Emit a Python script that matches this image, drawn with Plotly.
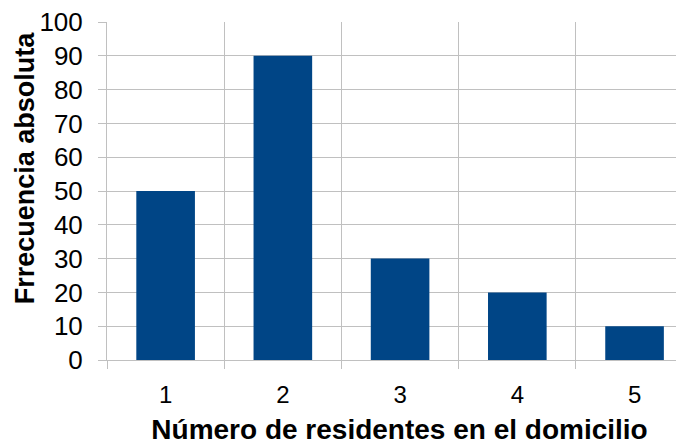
import plotly.graph_objects as go

categories = [1, 2, 3, 4, 5]
values = [50, 90, 30, 20, 10]
x_title = "Número de residentes en el domicilio"
y_title = "Frrecuencia absoluta"

fig = go.Figure()
fig.add_trace(go.Bar(x=categories, y=values, width=0.5,
                     marker=dict(color="#004586", line=dict(width=0))))

grid = "#c0c0c0"
fig.update_layout(
    width=684, height=444,
    margin=dict(l=99, r=0, t=14, b=92),
    plot_bgcolor="white", paper_bgcolor="white",
    font=dict(family="Liberation Sans, Arial, sans-serif", color="black"),
    showlegend=False,
    xaxis=dict(
        range=[0.5, 5.49], tickvals=categories, ticktext=[str(c) for c in categories],
        showgrid=False, ticks="", tickfont=dict(size=24), ticklabelstandoff=13,
        showline=True, linecolor=grid, linewidth=1,
        minor=dict(tick0=0.5, dtick=1, showgrid=True, gridcolor=grid, gridwidth=1,
                   ticks="outside", ticklen=8, tickcolor=grid),
        title=dict(text="<b>" + x_title + "</b>", font=dict(size=28), standoff=12),
        automargin=False, fixedrange=True,
    ),
    yaxis=dict(
        range=[0, 100.001], tickvals=list(range(0, 101, 10)), showgrid=True,
        gridcolor=grid, gridwidth=1,
        ticks="outside", ticklen=8, tickcolor=grid, tickfont=dict(size=26),
        ticklabelstandoff=10, ticklabeloverflow="allow",
        showline=True, linecolor=grid, linewidth=1, zeroline=False,
        automargin=False, fixedrange=True,
    ),
    annotations=[dict(
        text="<b>" + y_title + "</b>", font=dict(size=27), textangle=-90,
        xref="paper", yref="paper", x=0, y=0.567, xanchor="center", yanchor="middle",
        xshift=-82, showarrow=False,
    )],
)

fig.write_html("out.html")
